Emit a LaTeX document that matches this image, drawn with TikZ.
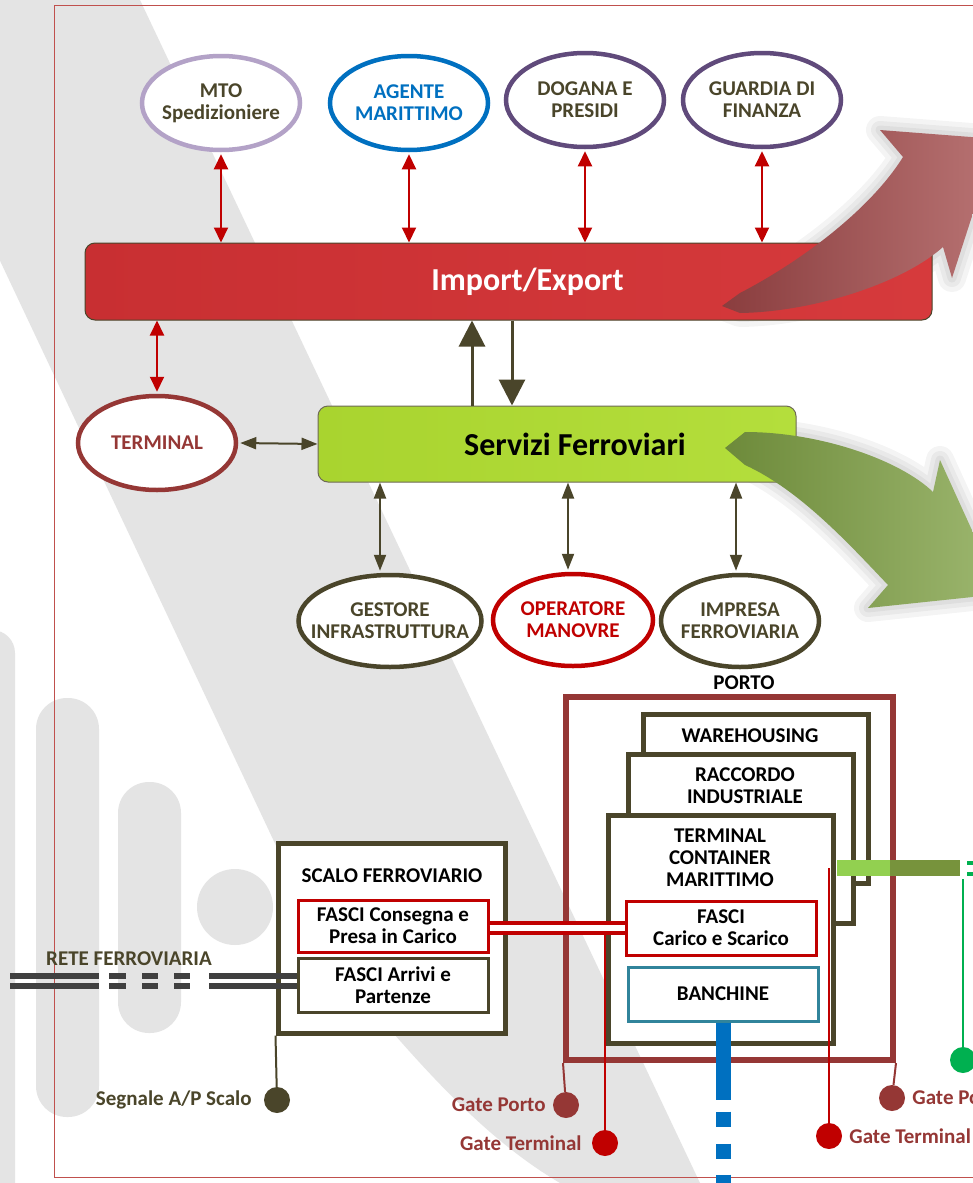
\documentclass[tikz,border=0pt]{standalone}
\usepackage{fontspec}
\setmainfont{Carlito}
\usetikzlibrary{arrows.meta,shapes.geometric,calc}

\definecolor{oliveDk}{HTML}{4A452A}
\definecolor{brownRed}{HTML}{953735}
\definecolor{redDk}{HTML}{C00000}
\definecolor{lavMTO}{HTML}{B3A2C7}
\definecolor{blueAg}{HTML}{0070C0}
\definecolor{purpleDg}{HTML}{604A7B}
\definecolor{tealBn}{HTML}{31849B}
\definecolor{greenLt}{HTML}{92D050}
\definecolor{greenOl}{HTML}{77933C}
\definecolor{greenGt}{HTML}{00B050}
\definecolor{impL}{HTML}{C82F32}
\definecolor{impR}{HTML}{D63A3C}
\definecolor{serL}{HTML}{A9D42F}
\definecolor{serR}{HTML}{B4DE3C}
\definecolor{wmGrey}{HTML}{E4E4E4}
\definecolor{frameRed}{HTML}{C0504D}
\definecolor{railGrey}{HTML}{404040}
\definecolor{redArrL}{HTML}{8A3D3E}
\definecolor{redArrR}{HTML}{B87373}
\definecolor{greenArrL}{HTML}{6D8A3A}
\definecolor{greenArrR}{HTML}{9DB76F}

\newcommand{\redArrowPath}{(722,306) -- (740,293) .. controls (800,262) and (870,210) .. (903,157) -- (880,130) -- (997,139) -- (952,278) -- (943,247) .. controls (900,285) and (810,312) .. (740,313) -- cycle}
\newcommand{\greenArrowPath}{(725,448) -- (745,432) .. controls (820,432) and (900,460) .. (933,492) -- (940,460) -- (1001,594) -- (868,608) -- (888,585) .. controls (850,545) and (800,490) .. (745,465) -- cycle}

\begin{document}
\begin{tikzpicture}[x=1pt,y=-1pt,
  lbl/.style={font=\fontsize{21pt}{22pt}\selectfont\bfseries, align=center, inner sep=0pt},
  bigtxt/.style={font=\fontsize{32pt}{34pt}\selectfont\bfseries, inner sep=0pt},
  ell/.style={ellipse, line width=4.5pt, fill=white, minimum width=158pt, minimum height=94pt, inner sep=0pt},
  pbox/.style={rectangle, line width=5pt, draw=oliveDk, fill=white, inner sep=2pt},
  ibox/.style={lbl, rectangle, line width=3pt, fill=white, minimum width=190pt, minimum height=54pt, inner sep=2pt},
  gdot/.style={circle, minimum size=26pt, inner sep=0pt},
  rarr/.style={redDk, line width=2pt, {Triangle[width=14pt,length=15pt]}-{Triangle[width=14pt,length=15pt]}},
  oarr/.style={oliveDk, line width=2pt, {Triangle[width=12pt,length=16pt]}-{Triangle[width=12pt,length=16pt]}},
  barr/.style={oliveDk, line width=3pt, -{Triangle[width=26pt,length=26pt]}},
  gline/.style={line width=2pt},
  halo/.style={black, line join=round, opacity=0.045},
  rail/.style={railGrey, line width=6pt, dash pattern=on 89pt off 10pt on 17pt off 16pt on 16pt off 16pt on 16pt off 19pt on 200pt}
]

\useasboundingbox (0,0) rectangle (973,1183);
\clip (0,0) rectangle (973,1183);
\fill[white] (0,0) rectangle (973,1183);

\fill[wmGrey] (-123,0) -- (140,0) -- (700,1183) -- (560,1183) .. controls (470,1130) and (400,1040) .. (330,960) -- cycle;
\fill[wmGrey, rounded corners=23pt] (-32,630) rectangle (15,1250);
\fill[wmGrey, rounded corners=31pt] (36,698) rectangle (99,1117);
\fill[wmGrey, rounded corners=31pt] (118,782) rectangle (181,1033);
\fill[wmGrey] (235,907) circle[radius=38];

\draw[frameRed, line width=1pt] (1000,5) -- (54,5) -- (54,1177) -- (1000,1177);

\foreach \w in {28,18,9} {
  \draw[halo, line width=\w pt] \redArrowPath;
  \draw[halo, line width=\w pt] \greenArrowPath;
}

\node[ell, draw=lavMTO, label={[lbl,text=oliveDk]center:MTO\\Spedizioniere}] (mto) at (221,103) {};
\node[ell, draw=blueAg, label={[lbl,text=blueAg]center:AGENTE\\MARITTIMO}] (age) at (409,103) {};
\node[ell, draw=purpleDg, label={[lbl,text=oliveDk]center:DOGANA E\\PRESIDI}] (dog) at (585,100) {};
\node[ell, draw=purpleDg, label={[lbl,text=oliveDk]center:GUARDIA DI\\FINANZA}] (gdf) at (762,100) {};

\node[rectangle, rounded corners=10pt, draw=oliveDk, line width=1pt, left color=impL, right color=impR, minimum width=847pt, minimum height=77pt, label={[bigtxt,text=white,xshift=19pt]center:Import/Export}] (imp) at (508.5,281.5) {};

\node[ell, draw=brownRed, label={[lbl,text=brownRed]center:TERMINAL}] (term) at (157,443) {};

\node[rectangle, rounded corners=10pt, draw=oliveDk!80, line width=1pt, left color=serL, right color=serR, minimum width=478pt, minimum height=76pt, label={[bigtxt,xshift=18pt]center:Servizi Ferroviari}] (ser) at (557,444) {};

\node[ell, draw=oliveDk, minimum width=183pt, minimum height=92pt, label={[lbl,text=oliveDk]center:GESTORE\\INFRASTRUTTURA}] (ges) at (390,621) {};
\node[ell, draw=redDk, minimum width=160pt, minimum height=92pt, label={[lbl,text=redDk]center:OPERATORE\\MANOVRE}] (opm) at (573,620) {};
\node[ell, draw=oliveDk, minimum height=92pt, label={[lbl,text=oliveDk]center:IMPRESA\\FERROVIARIA}] (imf) at (740,621) {};

\foreach \n in {mto,age,dog,gdf}
  \draw[rarr] ([yshift=-2pt]\n.south) -- (\n.south |- imp.north);
\draw[rarr] ([yshift=2pt]term.north) -- (term.north |- imp.south);
\draw[oarr] ([xshift=2pt]term.east) -- (ser.west);
\draw[barr] ($(ser.north)+(-85,0)$) -- ($(ser.north |- imp.south)+(-85,0)$);
\draw[barr] ($(ser.north |- imp.south)+(-45,0)$) -- ($(ser.north)+(-45,0)$);
\draw[oarr] ($(ges.north |- ser.south)+(-10,0)$) -- ($(ges.north)+(-10,-2)$);
\draw[oarr] ($(opm.north |- ser.south)+(-5,0)$) -- ($(opm.north)+(-5,-2)$);
\draw[oarr] ($(imf.north |- ser.south)+(-4,0)$) -- ($(imf.north)+(-4,-2)$);

\shade[left color=redArrL, right color=redArrR] \redArrowPath;
\shade[left color=greenArrL, right color=greenArrR] \greenArrowPath;

\node[lbl] (portoT) at (744,683) {PORTO};
\node[pbox, draw=brownRed, line width=6pt, fill=none, minimum width=327pt, minimum height=363pt] (porto) at (729.5,878.5) {};
\node[pbox, minimum width=225pt, minimum height=169pt] (wh) at (755.5,798.5) {};
\node[lbl] (whT) at (750,736) {WAREHOUSING};
\node[pbox, minimum width=225pt, minimum height=169pt] (rac) at (740.5,838.5) {};
\node[lbl] (racT) at (745,786) {RACCORDO\\INDUSTRIALE};
\node[pbox, minimum width=225pt, minimum height=228pt] (tcm) at (720.5,929) {};
\node[lbl] (tcmT) at (720,858) {TERMINAL\\CONTAINER\\MARITTIMO};
\node[ibox, draw=redDk] (fcs) at (721,928) {FASCI\\Carico e Scarico};
\node[ibox, draw=tealBn] (ban) at (723,994) {BANCHINE};

\node[pbox, minimum width=227pt, minimum height=190pt] (scalo) at (391.5,938) {};
\node[lbl] (scaloT) at (392,876) {SCALO FERROVIARIO};
\node[ibox, draw=redDk, minimum height=52pt] (fcp) at (393,926) {FASCI Consegna e\\Presa in Carico};
\node[ibox, draw=oliveDk] (fap) at (393,985) {FASCI Arrivi e\\Partenze};

\coordinate (railA) at (10,976);
\coordinate (railB) at (10,986);
\draw[rail] (railA) -- (railA -| fap.west);
\draw[rail] (railB) -- (railB -| fap.west);
\node[lbl, text=oliveDk] (reteT) at (129,959) {RETE FERROVIARIA};

\node[gdot, fill=oliveDk, label={[lbl,text=oliveDk,xshift=-12pt]left:Segnale A/P Scalo}] (sig) at (277,1100) {};
\draw[oliveDk, gline] (scalo.south west) -- (sig);

\node[gdot, fill=brownRed, label={[lbl,text=brownRed,xshift=-7pt]left:Gate Porto}] (gpL) at (566,1105) {};
\node[gdot, fill=redDk, label={[lbl,text=brownRed,xshift=-10pt]left:Gate Terminal}] (gtL) at (605,1143) {};
\node[gdot, fill=brownRed, label={[lbl,text=brownRed,xshift=7pt]right:Gate Porto}] (gpR) at (892,1098) {};
\node[gdot, fill=redDk, label={[lbl,text=brownRed,xshift=7pt]right:Gate Terminal}] (gtR) at (829,1136) {};
\draw[brownRed, gline] (porto.south west) -- (gpL);
\draw[brownRed, gline] (porto.south east) -- (gpR);
\draw[redDk, gline] (gtL |- fcs.west) -- (gtL);
\draw[redDk, line width=4pt, double=white, double distance=6pt] (fcs.west -| fcp.east) -- (fcs.west);

\coordinate (gbS) at (837,868);
\coordinate (gbM) at (890,868);
\coordinate (gbE) at (960,868);
\draw[greenLt, line width=16pt] (gbS) -- (gbM);
\draw[greenOl, line width=16pt] (gbM) -- (gbE);
\draw[redDk, gline] (gtR |- gbS) -- (gtR);

\coordinate (gdS) at (967,868);
\coordinate (gdE) at (990,868);
\draw[greenGt, line width=4pt, double=white, double distance=7pt] (gdS) -- (gdE);
\node[gdot, fill=greenGt] (gC) at (963,1060) {};
\coordinate (gvT) at (963,879);
\draw[greenGt, gline] (gvT) -- (gC);

\coordinate (blueE) at (725,1200);
\draw[blueAg, line width=15pt, dash pattern=on 77pt off 12pt on 15pt off 17pt on 15pt off 16pt on 40pt] (ban.south) -- (ban.south |- blueE);

\end{tikzpicture}
\end{document}
